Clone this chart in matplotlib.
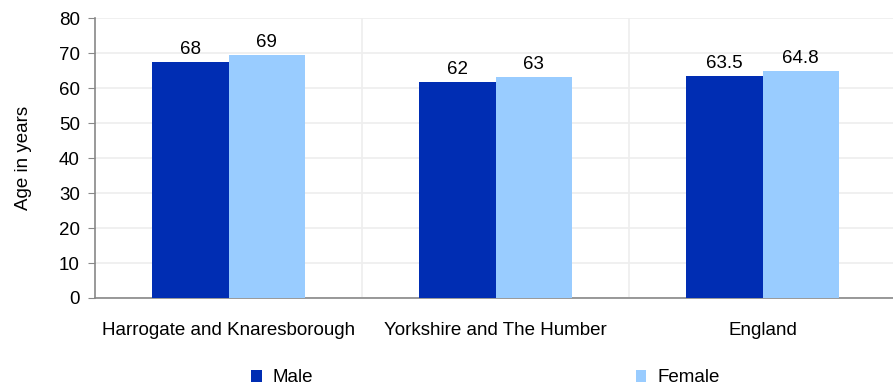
import matplotlib
matplotlib.use("Agg")
import matplotlib.pyplot as plt
import numpy as np

plt.rcParams['font.family'] = ['Liberation Sans', 'DejaVu Sans']

categories = ["Harrogate and Knaresborough", "Yorkshire and The Humber", "England"]
male = [67.4, 61.7, 63.4]
female = [69.4, 63.1, 64.9]
male_labels = ["68", "62", "63.5"]
female_labels = ["69", "63", "64.8"]

x = np.arange(len(categories))
w = 0.285

fig = plt.figure(figsize=(8.93, 3.86), dpi=100)
ax = fig.add_axes([0.1064, 0.228, 0.897, 0.725])

b1 = ax.bar(x - w / 2, male, w, color="#002db3", label="Male", zorder=3)
b2 = ax.bar(x + w / 2, female, w, color="#99ccff", label="Female", zorder=3)
ax.bar_label(b1, labels=male_labels, padding=3, fontsize=13.5)
ax.bar_label(b2, labels=female_labels, padding=3, fontsize=13.5)

ax.set_xlim(-0.5, 2.5)
ax.set_ylim(0, 80)
ax.set_yticks(range(0, 81, 10))
ax.set_xticks(x)
ax.set_xticklabels(categories)
ax.set_xticks([0.5, 1.5, 2.5], minor=True)
ax.grid(axis="y", color="#eeeeee", linewidth=1.2, zorder=0)
ax.grid(axis="x", which="minor", color="#eeeeee", linewidth=1.2, zorder=0)
ax.tick_params(axis="x", which="both", length=0, labelsize=13.5, pad=17)
ax.tick_params(axis="y", length=5, color="#888888", labelsize=13.5, pad=6)
for s in ["top", "right"]:
    ax.spines[s].set_visible(False)
for s in ["left", "bottom"]:
    ax.spines[s].set_color("#888888")
    ax.spines[s].set_linewidth(1.2)
ax.set_ylabel("Age in years", fontsize=13.5, labelpad=19)

fig.legend(handles=[b1, b2], loc="lower center", bbox_to_anchor=(0.5437, -0.045),
           ncol=2, frameon=False, fontsize=13.5, handlelength=0.55, handleheight=0.55,
           handletextpad=0.6, columnspacing=17.2)

fig.savefig("out.png", dpi=100)
